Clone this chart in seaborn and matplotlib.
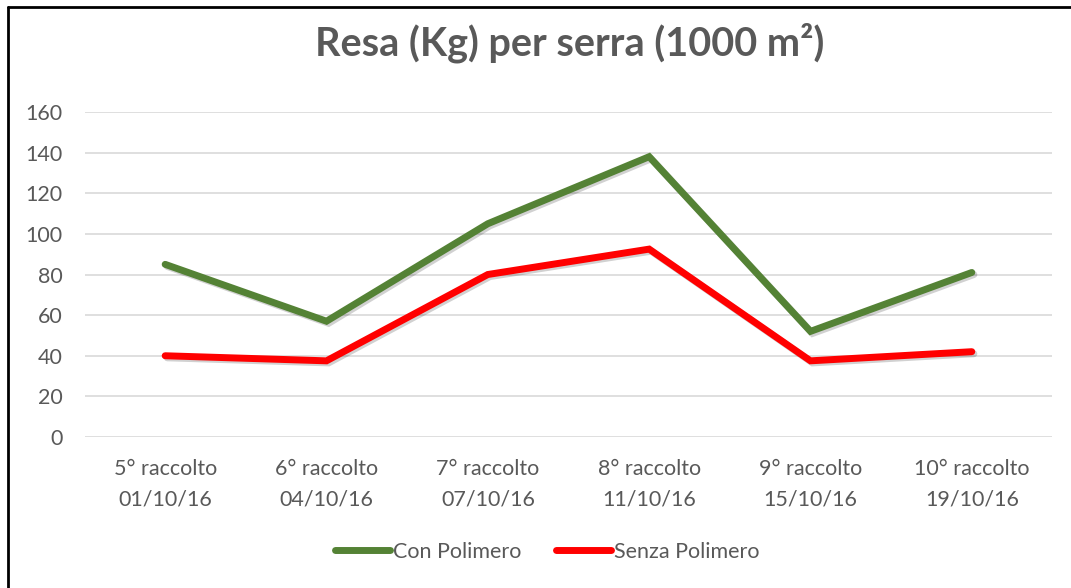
import matplotlib
matplotlib.use("Agg")
import matplotlib.pyplot as plt
import matplotlib.patheffects as pe
from matplotlib.lines import Line2D
import seaborn as sns
import pandas as pd

categories = ["5° raccolto\n01/10/16", "6° raccolto\n04/10/16", "7° raccolto\n07/10/16",
              "8° raccolto\n11/10/16", "9° raccolto\n15/10/16", "10° raccolto\n19/10/16"]
con_polimero = [85, 57, 105, 138, 52, 81]
senza_polimero = [40, 37.5, 80, 92.5, 37.5, 42]
series_names = ["Con Polimero", "Senza Polimero"]
colors = ["#548235", "#FF0000"]
yticks = [0, 20, 40, 60, 80, 100, 120, 140, 160]

sns.set_theme(style="white")
plt.rcParams['font.family'] = ['Lato', 'DejaVu Sans']

df = pd.DataFrame({
    "x": list(range(len(categories))) * 2,
    "value": con_polimero + senza_polimero,
    "serie": [series_names[0]] * len(categories) + [series_names[1]] * len(categories),
})

fig = plt.figure(figsize=(10.71, 5.88), dpi=100)
ax = fig.add_axes([0.0789, 0.2568, 0.9038, 0.5527])

sns.lineplot(data=df, x="x", y="value", hue="serie", palette=colors, ax=ax,
             linewidth=5, legend=False, sort=False)
for ln in ax.lines:
    ln.set_solid_capstyle("round")
    ln.set_solid_joinstyle("miter")
    ln.set_path_effects([pe.SimpleLineShadow(offset=(1.5, -1.5), shadow_color="#000000", alpha=0.18),
                         pe.Normal()])

ax.set_xlim(-0.5, len(categories) - 0.5)
ax.set_ylim(0, 160)
ax.set_yticks(yticks)
ax.set_yticklabels([str(v) for v in yticks])
ax.set_xticks(range(len(categories)))
ax.set_xticklabels(categories, linespacing=1.62)
ax.tick_params(axis="both", colors="#595959", labelsize=15.5, length=0)
ax.tick_params(axis="x", pad=16)
ax.tick_params(axis="y", pad=16)
ax.yaxis.grid(True, color="#D9D9D9", linewidth=1.2)
ax.xaxis.grid(False)
for s in ax.spines.values():
    s.set_visible(False)
ax.set_xlabel("")
ax.set_ylabel("")
ax.set_axisbelow(True)

fig.text(0.532, 0.928, "Resa (Kg) per serra (1000 m²)", ha="center", va="center",
         fontsize=28.5, fontweight="bold", color="#595959")

handles = [Line2D([0], [0], color=c, linewidth=5, solid_capstyle="round") for c in colors]
fig.legend(handles, series_names, loc="center", bbox_to_anchor=(0.511, 0.062), ncol=2,
           frameon=False, fontsize=15.5, labelcolor="#595959", handlelength=2.55,
           handletextpad=0.15, columnspacing=1.6)

# outer chart border (top and left visible)
fig.add_artist(Line2D([8 / 1071, 1.0], [1 - 7 / 588, 1 - 7 / 588], transform=fig.transFigure,
                      color="black", linewidth=2))
fig.add_artist(Line2D([8 / 1071, 8 / 1071], [0, 1 - 7 / 588], transform=fig.transFigure,
                      color="black", linewidth=2))

fig.savefig("out.png", dpi=100, facecolor="white")
